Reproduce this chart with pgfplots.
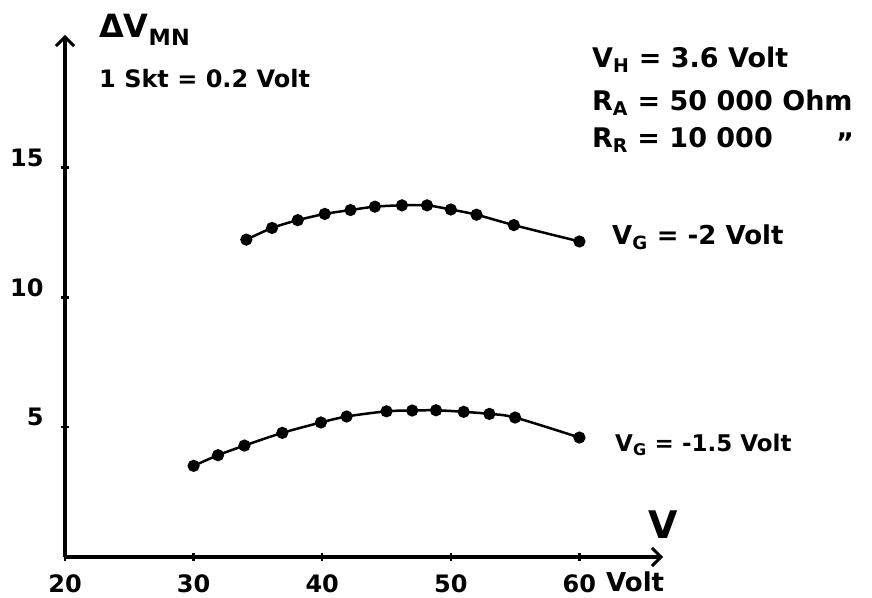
\documentclass[border=0pt]{standalone}
\usepackage{fontspec}
\setmainfont{DejaVu Sans}
\usepackage{pgfplots}
\pgfplotsset{compat=1.18}
\usetikzlibrary{arrows.meta}

\newcommand{\hand}[1]{\fontsize{#1}{#1}\selectfont\bfseries}

\begin{document}
\begin{tikzpicture}[x=1pt,y=1pt]
\useasboundingbox (0,0) rectangle (872,597);
\begin{axis}[
    at={(65pt,40pt)}, anchor=south west,
    scale only axis, width=598pt, height=522pt,
    xmin=20, xmax=66.5, ymin=0, ymax=20.1,
    axis lines=left,
    axis line style={line width=3.5pt, -{Straight Barb[length=9pt,width=18pt,line width=3pt]}},
    xtick={20,30,40,50,60},
    xticklabels={\raisebox{9pt}{20},30,40,50,60},
    ytick={5,10,15},
    tick align=center,
    major tick length=8pt,
    tick style={line width=2.5pt, black},
    tick label style={font=\hand{24}},
    yticklabel style={xshift=-14pt, yshift=10pt},
    xticklabel style={yshift=-10pt},
    /pgf/number format/assume math mode=true,
    clip=false,
]
% V_G = -2 Volt
\addplot[black, line width=2.5pt, smooth, mark=*, mark size=4.8pt] coordinates {
    (34.1,12.22) (36.1,12.67) (38.1,12.97) (40.2,13.21) (42.2,13.36) (44.1,13.49)
    (46.2,13.54) (48.15,13.54) (50.0,13.38) (52.0,13.18) (54.9,12.78) (60.0,12.15)};
% V_G = -1.5 Volt
\addplot[black, line width=2.5pt, smooth, mark=*, mark size=4.8pt] coordinates {
    (30.0,3.51) (31.9,3.92) (33.95,4.29) (36.9,4.78) (39.9,5.18) (41.9,5.41)
    (45.0,5.61) (47.0,5.64) (48.85,5.65) (51.0,5.59) (53.0,5.51) (55.0,5.37) (60.0,4.6)};
\end{axis}
\begin{scope}[every node/.style={inner sep=0pt, anchor=west}]
\node[font=\hand{32}] at (99,567) {ΔV\textsubscript{MN}};
\node[font=\hand{24}] at (99,518) {1 Skt = 0.2 Volt};
\node[font=\hand{27}] at (592,537) {V\textsubscript{H} = 3.6 Volt};
\node[font=\hand{27}] at (592,494) {R\textsubscript{A} = 50 000 Ohm};
\node[font=\hand{27}] at (592,457) {R\textsubscript{R} = 10 000};
\node[font=\hand{27}] at (836,454) {''};
\node[font=\hand{26}] at (612,360) {V\textsubscript{G} = -2 Volt};
\node[font=\hand{23}] at (615,152) {V\textsubscript{G} = -1.5 Volt};
\node[font=\hand{38}] at (648,72) {V};
\node[font=\hand{26}] at (606,15) {Volt};
\end{scope}
\end{tikzpicture}
\end{document}
